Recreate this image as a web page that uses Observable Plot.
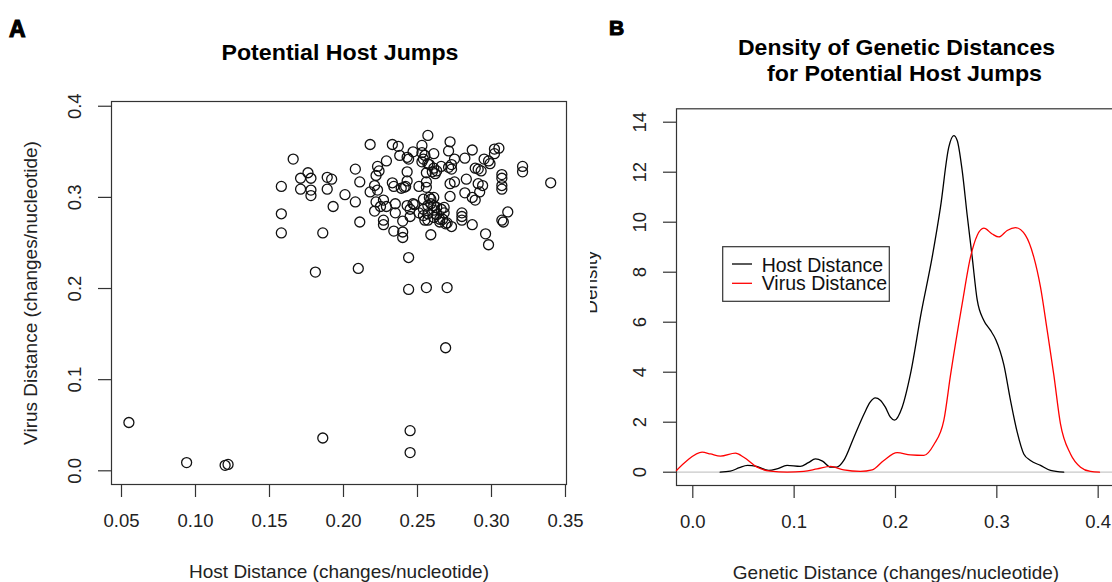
<!DOCTYPE html>
<html><head><meta charset="utf-8">
<script src="https://cdn.jsdelivr.net/npm/d3@7"></script>
<script src="https://cdn.jsdelivr.net/npm/@observablehq/plot@0.6"></script>
<style>
html,body{margin:0;padding:0;background:#fff;}
#page{position:relative;width:1112px;height:582px;overflow:hidden;background:#fff;}
#pa{position:absolute;left:0;top:0;width:590px;height:582px;overflow:hidden;}
#pb{position:absolute;left:590px;top:0;width:522px;height:582px;overflow:hidden;}
#ov{position:absolute;left:0;top:0;pointer-events:none;}
</style></head><body>
<div id="page"><div id="pa"></div><div id="pb"></div><svg id="ov" width="1112" height="582"></svg></div>
<script>
// ---------- data ----------
const hostDist = [0.055,0.094,0.120,0.122,0.186,0.245,0.245,0.269,0.244,0.256,0.270,0.244,0.181,0.210,
0.158,0.158,0.158,0.166,0.171,0.171,0.176,0.178,0.178,0.178,0.186,0.189,0.189,0.192,0.193,0.201,
0.208,0.208,0.211,0.211,0.218,0.218,0.221,0.222,0.223,0.224,0.223,0.222,0.221,0.227,0.225,0.229,
0.227,0.227,0.229,0.233,0.237,0.233,0.234,0.235,0.235,0.234,0.238,0.239,0.240,0.240,0.240,0.243,
0.244,0.243,0.243,0.242,0.243,0.245,0.245,0.247,0.248,0.251,0.253,0.253,0.254,0.253,0.255,0.256,
0.256,0.256,0.254,0.254,0.254,0.255,0.257,0.258,0.258,0.257,0.257,0.257,0.259,0.261,0.260,0.261,
0.261,0.261,0.261,0.261,0.263,0.263,0.265,0.266,0.268,0.267,0.271,0.272,0.273,0.273,0.272,0.272,
0.270,0.273,0.275,0.275,0.280,0.280,0.280,0.282,0.282,0.283,0.287,0.287,0.289,0.287,0.289,0.291,
0.293,0.291,0.294,0.292,0.296,0.295,0.298,0.299,0.298,0.302,0.302,0.305,0.307,0.307,0.307,0.307,
0.307,0.308,0.311,0.321,0.321,0.340,
0.265,0.269,0.266,0.259,0.262,0.257,0.271,0.241,0.247,0.251,0.263,0.259,0.268];
const virusDist = [0.053,0.009,0.006,0.007,0.036,0.044,0.020,0.135,0.199,0.201,0.201,0.234,0.218,0.222,
0.312,0.282,0.261,0.342,0.321,0.309,0.327,0.321,0.308,0.302,0.261,0.322,0.309,0.320,0.290,0.303,
0.331,0.295,0.317,0.273,0.358,0.306,0.313,0.324,0.334,0.329,0.308,0.295,0.285,0.297,0.290,0.340,
0.275,0.270,0.290,0.358,0.356,0.316,0.312,0.293,0.283,0.263,0.346,0.310,0.274,0.262,0.256,0.344,
0.342,0.328,0.318,0.312,0.291,0.287,0.279,0.350,0.292,0.312,0.357,0.349,0.342,0.339,0.346,0.327,
0.317,0.311,0.298,0.287,0.280,0.275,0.368,0.336,0.300,0.291,0.282,0.275,0.259,0.348,0.328,0.332,
0.300,0.291,0.286,0.278,0.289,0.329,0.276,0.334,0.289,0.276,0.351,0.361,0.336,0.331,0.315,0.301,
0.272,0.268,0.342,0.317,0.283,0.279,0.275,0.305,0.343,0.320,0.352,0.300,0.297,0.270,0.332,0.331,
0.329,0.315,0.313,0.306,0.260,0.342,0.340,0.337,0.248,0.353,0.348,0.354,0.325,0.321,0.313,0.309,
0.275,0.273,0.284,0.334,0.328,0.316,
0.273,0.271,0.287,0.298,0.326,0.337,0.333,0.311,0.293,0.283,0.281,0.293,0.283];

const hostDensX = [0.027,0.037,0.046,0.054,0.063,0.075,0.083,0.093,0.106,0.114,0.121,0.128,0.136,0.142,0.149,
0.159,0.169,0.175,0.180,0.185,0.190,0.195,0.199,0.2066,0.2148,0.2255,0.2362,0.2444,0.2526,0.2575,0.2609,
0.2658,0.2707,0.2757,0.2806,0.2872,0.2938,0.2990,0.3069,0.3135,0.3201,0.3266,0.3332,0.3431,0.353,0.366];
const hostDensY = [0,0.04,0.18,0.27,0.23,0.07,0.13,0.27,0.23,0.38,0.53,0.44,0.2,0.2,0.47,
1.4,2.33,2.8,2.97,2.88,2.6,2.2,2.08,2.6,3.93,6.4,8.6,10.6,13.0,13.46,13.27,
12.07,10.3,8.6,6.9,6.07,5.67,5.3,4.3,2.87,1.6,0.73,0.47,0.27,0.07,0];
const virusDensX = [-0.0161,-0.0056,0.0092,0.0174,0.0273,0.0421,0.0503,0.0635,0.0766,0.0931,0.1095,0.1227,
0.1359,0.149,0.1655,0.177,0.1885,0.2016,0.2148,0.228,0.2378,0.2477,0.2543,0.2658,0.274,0.2806,0.2872,
0.2954,0.302,0.3102,0.3184,0.3283,0.3365,0.3431,0.3497,0.3562,0.3628,0.3727,0.3826,0.3924,0.4013];
const virusDensY = [0.07,0.47,0.8,0.73,0.64,0.76,0.6,0.2,0.04,0,0.03,0.13,
0.23,0.09,0.03,0.09,0.47,0.78,0.69,0.67,1.1,2.07,3.88,6.73,8.6,9.47,9.76,
9.53,9.41,9.67,9.78,9.47,8.6,7.4,5.67,3.9,1.93,0.73,0.2,0.03,0];

const xTicksA = [0.05,0.10,0.15,0.20,0.25,0.30,0.35];
const yTicksA = [0.0,0.1,0.2,0.3,0.4];
const xTicksB = [0.0,0.1,0.2,0.3,0.4];
const yTicksB = [0,2,4,6,8,10,12,14];

const titleA = "Potential Host Jumps";
const titleB = ["Density of Genetic Distances", "for Potential Host Jumps"];
const xLabelA = "Host Distance (changes/nucleotide)";
const yLabelA = "Virus Distance (changes/nucleotide)";
const xLabelB = "Genetic Distance (changes/nucleotide)";
const yLabelB = "Density";
const legendLabels = ["Host Distance", "Virus Distance"];
const legendColors = ["#000000", "#ff0000"];

// ---------- build ----------
const FONT = "'Liberation Sans', Arial, sans-serif";
const svgStyle = `max-width:none;font-family:${FONT};font-size:18.5px;background:transparent;color:#000;`;
const points = hostDist.map((x, i) => ({x, y: virusDist[i]}));
const hostDens = hostDensX.map((x, i) => ({x, y: hostDensY[i]}));
const virusDens = virusDensX.map((x, i) => ({x, y: virusDensY[i]}));

const A = Plot.plot({
  width: 590, height: 582,
  marginLeft: 111, marginRight: 24, marginTop: 101, marginBottom: 98,
  style: svgStyle,
  x: {domain: [0.04324, 0.35068], label: null},
  y: {domain: [-0.01503, 0.4052], label: null},
  marks: [
    Plot.frame({stroke: "#333", strokeWidth: 1.2}),
    Plot.axisX({ticks: xTicksA, tickSize: 13, tickFormat: () => "", stroke: "#333", strokeWidth: 1.2}),
    Plot.axisY({ticks: yTicksA, tickSize: 13, tickFormat: () => "", stroke: "#333", strokeWidth: 1.2}),
    Plot.text(xTicksA, {x: d => d, text: d => d.toFixed(2), frameAnchor: "bottom", dy: 37, lineAnchor: "middle", fill: "#222"}),
    Plot.text(yTicksA, {y: d => d, text: d => d.toFixed(1), frameAnchor: "left", dx: -36, rotate: -90, textAnchor: "middle", lineAnchor: "middle", fill: "#222"}),
    Plot.text([xLabelA], {text: d => d, frameAnchor: "bottom", dy: 87, lineAnchor: "middle", fontSize: 19, fill: "#222"}),
    Plot.text([yLabelA], {text: d => d, frameAnchor: "left", dx: -81, rotate: -90, textAnchor: "middle", lineAnchor: "middle", fontSize: 19, fill: "#222"}),
    Plot.dot(points, {x: "x", y: "y", r: 5, stroke: "#111", strokeWidth: 1.3, fill: "none"})
  ]
});
document.getElementById("pa").appendChild(A);

const B = Plot.plot({
  width: 525, height: 582,
  marginLeft: 86, marginRight: 0, marginTop: 108.3, marginBottom: 97,
  style: svgStyle,
  x: {domain: [-0.01608, 0.4171], label: null},
  y: {domain: [-0.532, 14.536], label: null},
  marks: [
    Plot.ruleY([0], {stroke: "#c8c8c8", strokeWidth: 1.2}),
    Plot.frame({stroke: "#333", strokeWidth: 1.2}),
    Plot.axisX({ticks: xTicksB, tickSize: 13, tickFormat: () => "", stroke: "#333", strokeWidth: 1.2}),
    Plot.axisY({ticks: yTicksB, tickSize: 13, tickFormat: () => "", stroke: "#333", strokeWidth: 1.2}),
    Plot.text(xTicksB, {x: d => d, text: d => d.toFixed(1), frameAnchor: "bottom", dy: 37, lineAnchor: "middle", fill: "#222"}),
    Plot.text(yTicksB, {y: d => d, text: d => String(d), frameAnchor: "left", dx: -36, rotate: -90, textAnchor: "middle", lineAnchor: "middle", fill: "#222"}),
    Plot.text([xLabelB], {text: d => d, frameAnchor: "bottom", dy: 87, lineAnchor: "middle", fontSize: 19, fill: "#222"}),
    Plot.text([yLabelB], {text: d => d, frameAnchor: "left", dx: -86, dy: -15, rotate: -90, textAnchor: "middle", lineAnchor: "middle", fontSize: 19, fill: "#222"}),
    Plot.line(hostDens, {x: "x", y: "y", stroke: legendColors[0], strokeWidth: 1.3, curve: "monotone-x"}),
    Plot.line(virusDens, {x: "x", y: "y", stroke: legendColors[1], strokeWidth: 1.3, curve: "monotone-x"})
  ]
});
document.getElementById("pb").appendChild(B);

// ---------- overlay: titles, panel letters, legend ----------
const ov = d3.select("#ov").style("font-family", FONT);
function txt(x, y, s, opts = {}) {
  const t = ov.append("text").attr("x", x).attr("y", y).text(s)
    .attr("font-size", opts.size || 19).attr("fill", opts.fill || "#000")
    .attr("text-anchor", opts.anchor || "start");
  if (opts.weight) t.attr("font-weight", opts.weight);
  if (opts.len) t.attr("textLength", opts.len).attr("lengthAdjust", "spacingAndGlyphs");
  if (opts.stroke) t.attr("stroke", opts.fill || "#000").attr("stroke-width", opts.stroke);
  return t;
}
txt(9, 37, "A", {size: 23, weight: "900", stroke: 1.1});
txt(609, 35, "B", {size: 21, weight: "900", stroke: 1.1});
txt(340, 60, titleA, {size: 22, weight: "bold", anchor: "middle", len: 237});
txt(896.5, 55, titleB[0], {size: 22, weight: "bold", anchor: "middle", len: 317});
txt(904.5, 81, titleB[1], {size: 22, weight: "bold", anchor: "middle", len: 275});

ov.append("rect").attr("x", 722.7).attr("y", 246.7).attr("width", 166.6).attr("height", 54.6)
  .attr("fill", "none").attr("stroke", "#333").attr("stroke-width", 1.2);
legendLabels.forEach((lab, i) => {
  const ly = 264 + i * 19.3;
  ov.append("line").attr("x1", 732).attr("x2", 752).attr("y1", ly).attr("y2", ly)
    .attr("stroke", legendColors[i]).attr("stroke-width", 1.3);
  txt(761.7, 272.3 + i * 18, lab, {size: 19.5, fill: "#111"});
});
</script></body></html>
